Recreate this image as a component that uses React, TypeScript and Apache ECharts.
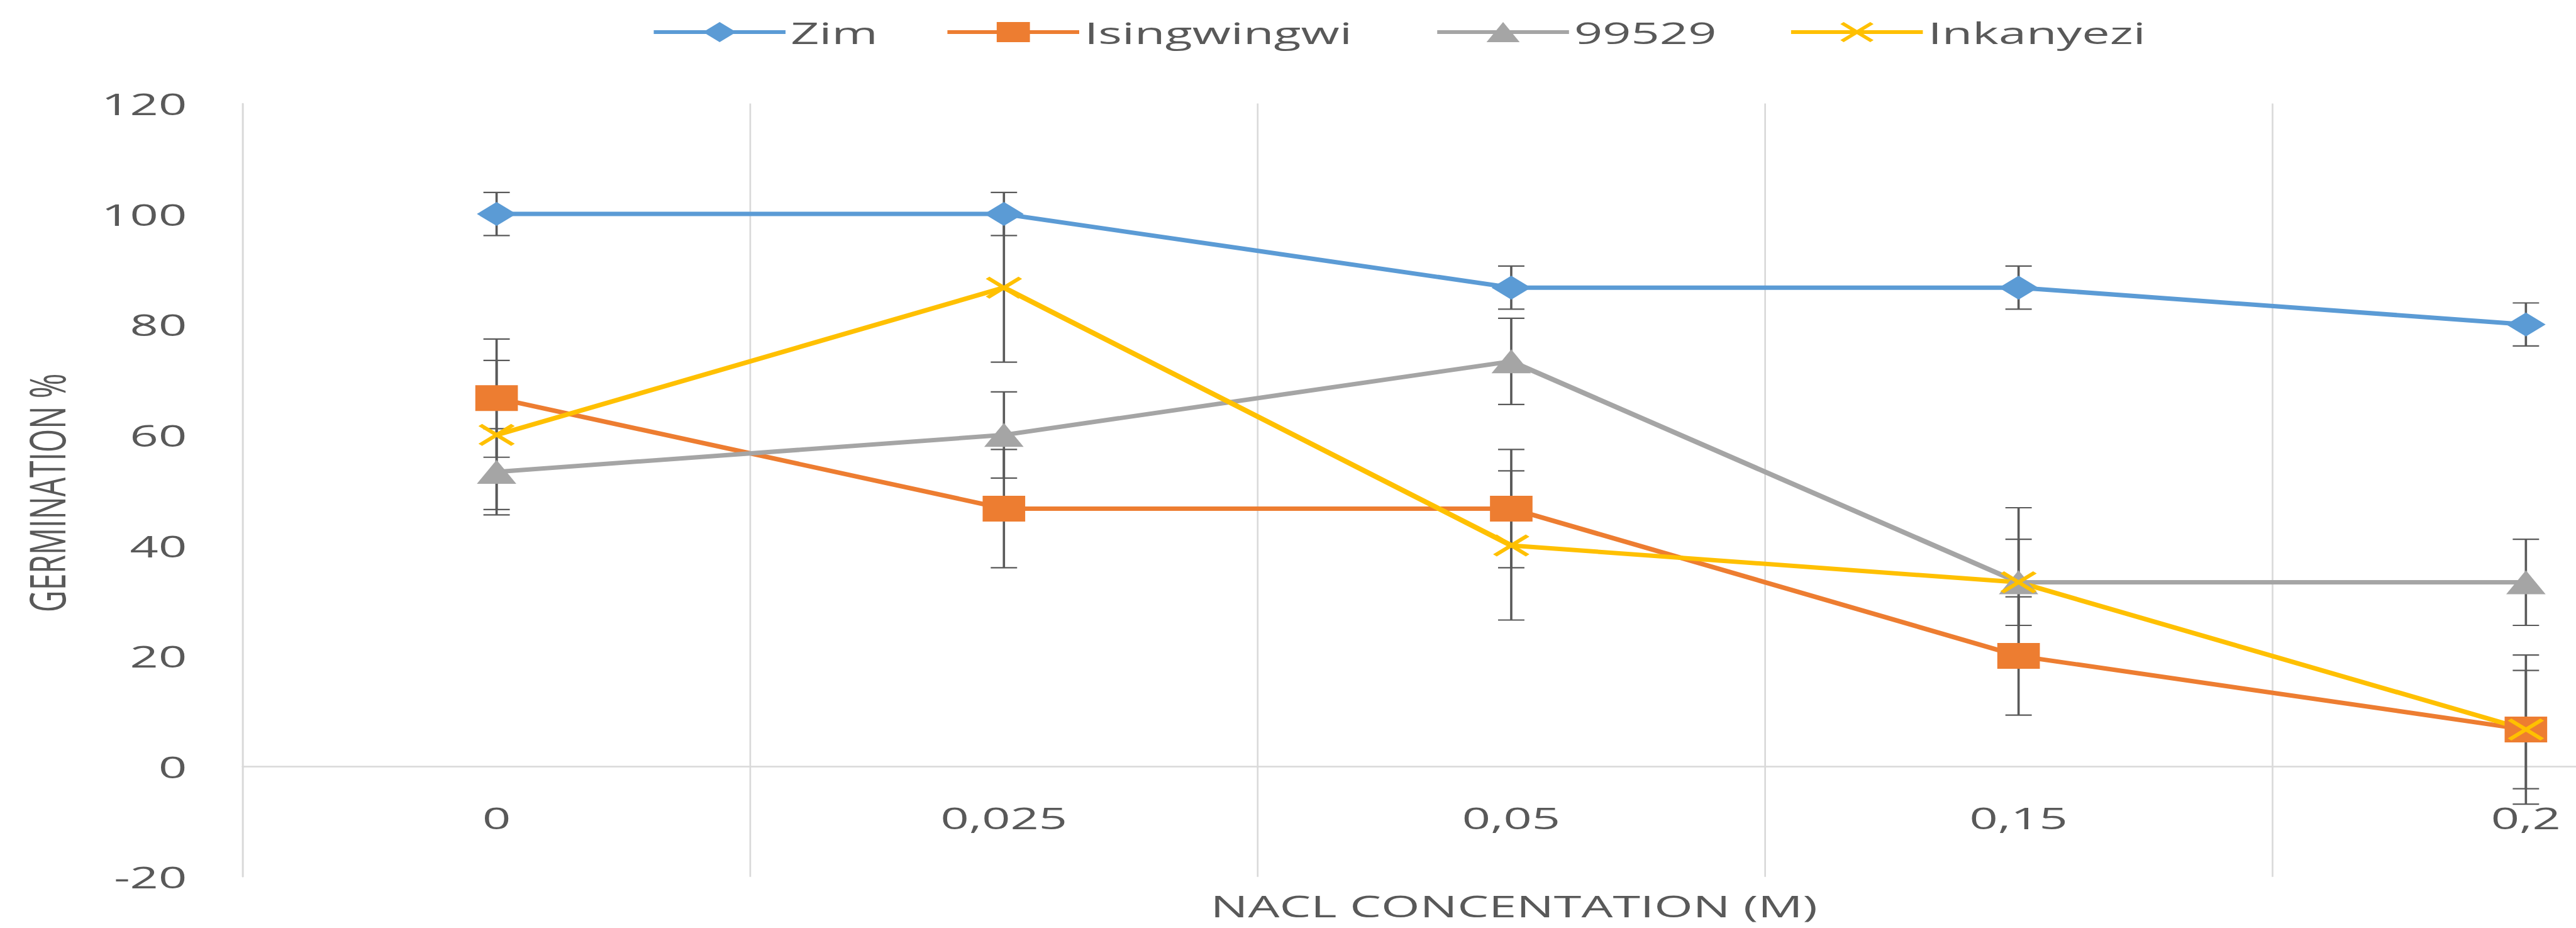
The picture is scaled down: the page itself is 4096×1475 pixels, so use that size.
import React, { useEffect, useRef } from "react";
import * as echarts from "echarts";

const categories = ["0", "0,025", "0,05", "0,15", "0,2"];
const seriesNames = ["Zim", "Isingwingwi", "99529", "Inkanyezi"];
const zimValues = [100, 100, 86.67, 86.67, 80];
const isingwingwiValues = [66.67, 46.67, 46.67, 20, 6.67];
const v99529Values = [53.33, 60, 73.33, 33.33, 33.33];
const inkanyeziValues = [60, 86.67, 40, 33.33, 6.67];
const errorAmounts = [3.9, 10.7, 7.8, 13.5];
const colors = ["#5B9BD5", "#ED7D31", "#A5A5A5", "#FFC000"];
const yTicks = { min: -20, max: 120, interval: 20 };

const STRETCH = 1.65;
const FONT = "'Open Sans', 'Liberation Sans', sans-serif";
const TEXT_COLOR = "#595959";
const X_SYMBOL =
  "path://M0,1 L1,0 L5,4 L9,0 L10,1 L6,5 L10,9 L9,10 L5,6 L1,10 L0,9 L4,5 Z";

const GRID_TOP = 164.5;
const GRID_HEIGHT = 1229.3;

export default function App() {
  const ref = useRef<HTMLDivElement>(null);

  useEffect(() => {
    if (!ref.current) return;
    const chart = echarts.init(ref.current, undefined, { renderer: "svg" });
    const allValues = [zimValues, isingwingwiValues, v99529Values, inkanyeziValues];
    const symbols = ["diamond", "rect", "triangle", X_SYMBOL];
    const symbolSizes = [38, 41, 38, 35];

    const errSeries = allValues.map((vals, si) => ({
      type: "custom",
      name: seriesNames[si] + " err",
      z: 1,
      silent: true,
      encode: { x: 0, y: [1, 2] },
      data: vals.map((v, i) => [i, v - errorAmounts[si], v + errorAmounts[si]]),
      renderItem: (params: any, api: any) => {
        const x = api.value(0);
        const pLo = api.coord([x, api.value(1)]);
        const pHi = api.coord([x, api.value(2)]);
        const hw = 12.7;
        const style = { stroke: TEXT_COLOR, lineWidth: 2.2 };
        return {
          type: "group",
          children: [
            { type: "line", shape: { x1: pHi[0], y1: pHi[1], x2: pLo[0], y2: pLo[1] }, style },
            { type: "line", shape: { x1: pHi[0] - hw, y1: pHi[1], x2: pHi[0] + hw, y2: pHi[1] }, style },
            { type: "line", shape: { x1: pLo[0] - hw, y1: pLo[1], x2: pLo[0] + hw, y2: pLo[1] }, style },
          ],
        };
      },
    }));

    const lineSeries = allValues.map((vals, si) => ({
      type: "line",
      name: seriesNames[si],
      z: 3,
      data: vals,
      symbol: symbols[si],
      symbolSize: symbolSizes[si],
      showAllSymbol: true,
      lineStyle: { color: colors[si], width: 7 },
      itemStyle: { color: colors[si] },
    }));

    const legendLefts = [627, 910, 1382, 1723];
    const legends = seriesNames.map((n, i) => ({
      data: [n],
      left: legendLefts[i],
      top: 27,
      padding: 0,
      itemWidth: 127,
      itemHeight: 40,
      lineStyle: { width: 6 },
      textStyle: { fontSize: 48, color: TEXT_COLOR, fontFamily: FONT },
    }));

    chart.setOption({
      animation: false,
      textStyle: { fontFamily: FONT },
      legend: legends,
      grid: { left: 234.1, top: GRID_TOP, width: 2444.5, height: GRID_HEIGHT, containLabel: false },
      xAxis: {
        type: "category",
        data: categories,
        boundaryGap: true,
        axisLine: { show: true, onZero: true, lineStyle: { color: "#D9D9D9", width: 2.5 } },
        axisTick: { show: false },
        splitLine: { show: true, lineStyle: { color: "#D9D9D9", width: 1.6 } },
        axisLabel: { margin: -118, fontSize: 48, color: TEXT_COLOR, fontFamily: FONT },
      },
      yAxis: {
        type: "value",
        min: yTicks.min,
        max: yTicks.max,
        interval: yTicks.interval,
        splitLine: { show: false },
        axisLine: { show: true, lineStyle: { color: "#D9D9D9", width: 1.6 } },
        axisTick: { show: false },
        axisLabel: { margin: 54, fontSize: 48, color: TEXT_COLOR, fontFamily: FONT },
      },
      graphic: [
        {
          type: "text",
          x: 44.3,
          y: 783.4,
          rotation: Math.PI / 2,
          style: {
            text: "GERMINATION %",
            align: "center",
            verticalAlign: "middle",
            fontSize: 48,
            fill: TEXT_COLOR,
            fontFamily: FONT,
          },
        },
        {
          type: "text",
          x: 1459,
          y: 1439,
          style: {
            text: "NACL CONCENTATION (M)",
            align: "center",
            verticalAlign: "middle",
            fontSize: 48,
            fill: TEXT_COLOR,
            fontFamily: FONT,
          },
        },
      ],
      series: [...errSeries, ...lineSeries],
    });
    return () => chart.dispose();
  }, []);

  return (
    <div
      style={{
        position: "fixed",
        left: 0,
        top: 0,
        width: 4096,
        height: 1475,
        overflow: "hidden",
        background: "#ffffff",
      }}
    >
      <div
        ref={ref}
        style={{
          width: 2700,
          height: 1475,
          transform: `scaleX(${STRETCH})`,
          transformOrigin: "0 0",
        }}
      />
    </div>
  );
}
